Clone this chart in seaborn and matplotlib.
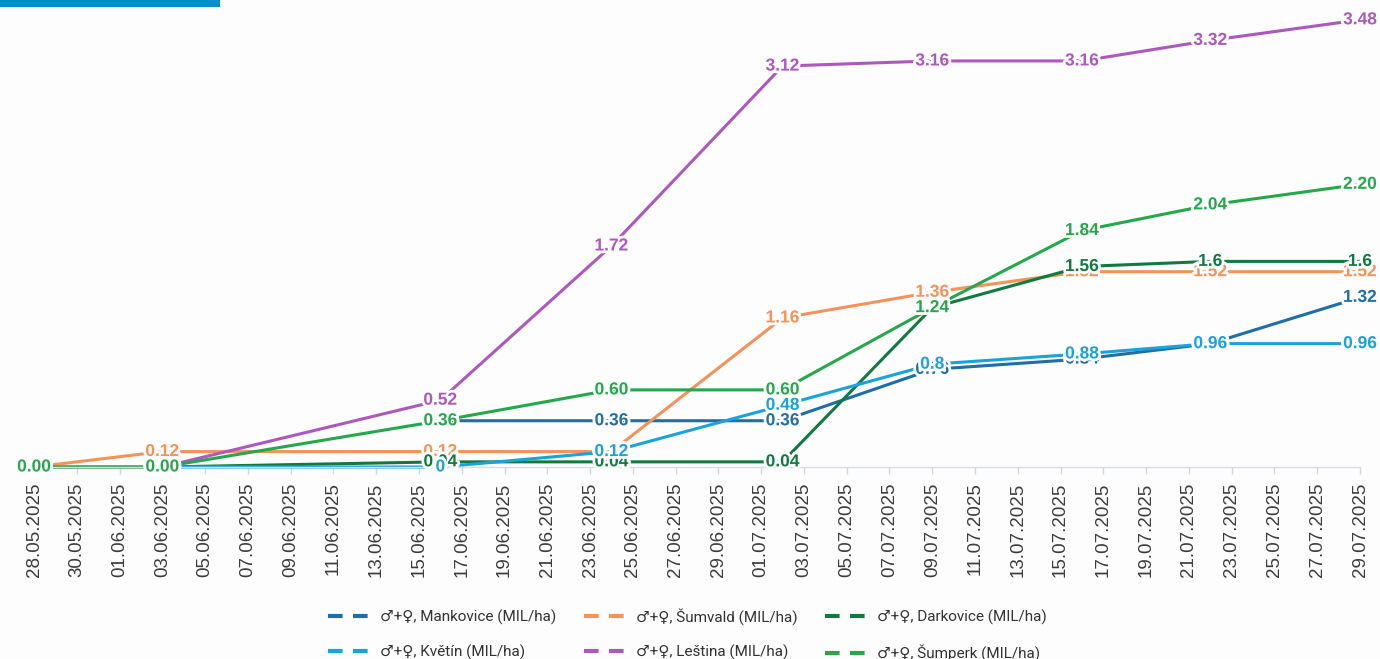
import matplotlib
matplotlib.use("Agg")
import matplotlib.pyplot as plt
import matplotlib.patheffects as pe
from matplotlib.lines import Line2D
from matplotlib.patches import Rectangle
from matplotlib.font_manager import FontProperties
import numpy as np
import pandas as pd
import seaborn as sns

# Sampling dates and trap counts per site
dates = ["28.05.2025", "03.06.2025", "16.06.2025", "24.06.2025", "02.07.2025",
         "09.07.2025", "16.07.2025", "22.07.2025", "29.07.2025"]

mankovice = [np.nan, np.nan, 0.36, 0.36, 0.36, 0.76, 0.84, 0.96, 1.32]
sumvald = [0.00, 0.12, 0.12, 0.12, 1.16, 1.36, 1.52, 1.52, 1.52]
darkovice = [np.nan, 0.00, 0.04, 0.04, 0.04, 1.24, 1.56, 1.60, 1.60]
kvetin = [np.nan, 0.00, 0.00, 0.12, 0.48, 0.80, 0.88, 0.96, 0.96]
lestina = [0.00, 0.00, 0.52, 1.72, 3.12, 3.16, 3.16, 3.32, 3.48]
sumperk = [0.00, 0.00, 0.36, 0.60, 0.60, 1.24, 1.84, 2.04, 2.20]

series_names = [
    "♂+♀, Mankovice (MIL/ha)",
    "♂+♀, Šumvald (MIL/ha)",
    "♂+♀, Darkovice (MIL/ha)",
    "♂+♀, Květín (MIL/ha)",
    "♂+♀, Leština (MIL/ha)",
    "♂+♀, Šumperk (MIL/ha)",
]
series_values = [mankovice, sumvald, darkovice, kvetin, lestina, sumperk]
series_colors = ["#1f6ea6", "#f3935a", "#117a40", "#1aa2dc", "#ad58bd", "#25a84b"]
# number format of the value labels: fixed two decimals or general
series_formats = ["fixed", "fixed", "general", "general", "fixed", "fixed"]

tick_start, tick_end = "2025-05-28", "2025-07-29"

# ---- long-format table
rows = []
for name, vals in zip(series_names, series_values):
    for d, v in zip(dates, vals):
        rows.append({"date": pd.to_datetime(d, format="%d.%m.%Y"), "value": v, "series": name})
df = pd.DataFrame(rows).dropna()

sns.set_style("white")
plt.rcParams["font.family"] = ["Liberation Sans", "DejaVu Sans"]

W, H = 1380, 659
fig = plt.figure(figsize=(W / 100, H / 100), dpi=100, facecolor="#fdfdfd")
y0_px, px_per_unit, ymax = 467, 128.5, 3.6
ax = fig.add_axes([34 / W, 1 - y0_px / H, 1326 / W, ymax * px_per_unit / H])
ax.set_facecolor("none")

palette = dict(zip(series_names, series_colors))
sns.lineplot(data=df, x="date", y="value", hue="series", hue_order=series_names,
             palette=palette, linewidth=2.2, estimator=None, sort=True,
             legend=False, ax=ax)
for ln in ax.lines:
    ln.set_clip_on(False)
    ln.set_solid_capstyle("round")

ticks = pd.date_range(tick_start, tick_end, freq="2D")
ax.set_xlim(ticks[0], ticks[-1])
ax.set_ylim(0, ymax)
ax.set_xticks(ticks)
ax.set_xticklabels([t.strftime("%d.%m.%Y") for t in ticks], rotation=90,
                   fontsize=13.5, color="#3c3c3c")
ax.tick_params(axis="x", direction="out", length=5, width=1, color="#cdd6e2", pad=6,
               bottom=True)
ax.set_yticks([])
ax.set_xlabel("")
ax.set_ylabel("")
for side in ["left", "right", "top"]:
    ax.spines[side].set_visible(False)
ax.spines["bottom"].set_color("#d6dde6")
ax.spines["bottom"].set_linewidth(1)

# value labels centred on each point
halo = [pe.withStroke(linewidth=4, foreground="#fdfdfd")]
for name, vals, col, fmt in zip(series_names, series_values, series_colors, series_formats):
    for d, v in zip(dates, vals):
        if np.isnan(v):
            continue
        txt = f"{v:.2f}" if fmt == "fixed" else f"{v:g}"
        ax.text(pd.to_datetime(d, format="%d.%m.%Y"), v, txt, ha="center", va="center",
                fontsize=12.5, fontweight="bold", color=col, path_effects=halo,
                zorder=5, clip_on=False)

# legend in row-major order across three columns
order = [0, 3, 1, 4, 2, 5]
handles = [Line2D([], [], color=series_colors[i], lw=3, linestyle=(0, (3.5, 2.5)))
           for i in order]
labels = [series_names[i] for i in order]
fig.legend(handles, labels, loc="center", bbox_to_anchor=(0.498, 1 - 634.5 / H), ncol=3,
           frameon=False, handlelength=2.7, handletextpad=0.7, columnspacing=1.8,
           labelspacing=1.3,
           prop=FontProperties(family=["Roboto", "DejaVu Sans"], size=11),
           labelcolor="#333333")

# header accent bar
fig.add_artist(Rectangle((0, 1 - 7 / H), 220 / W, 7 / H, transform=fig.transFigure,
                         color="#0090d0", lw=0))

fig.savefig("out.png", dpi=100, facecolor=fig.get_facecolor())
